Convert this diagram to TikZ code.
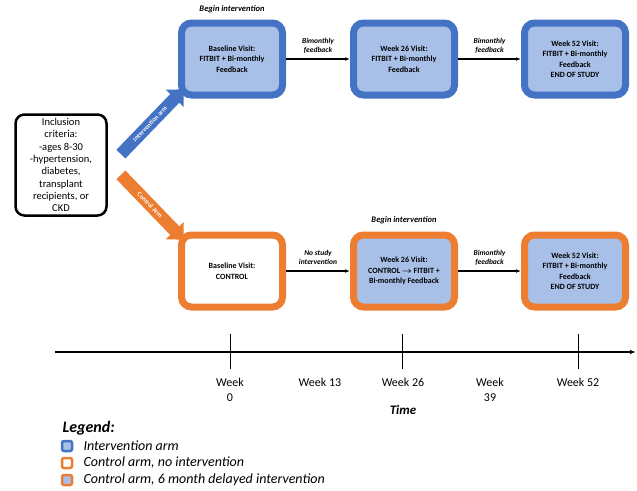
\documentclass[tikz,border=0pt]{standalone}
\usepackage{fontspec}
\setmainfont{Carlito}
\usetikzlibrary{shapes.arrows,arrows.meta}

\definecolor{armblue}{HTML}{4472C4}
\definecolor{armfill}{HTML}{A8C0E8}
\definecolor{armorange}{HTML}{ED7D31}

\tikzset{
  visit/.style={rounded corners=10pt, line width=7pt, minimum width=101pt,
    minimum height=72pt, align=center, inner sep=2pt,
    font=\fontsize{8}{10.5}\selectfont\bfseries},
  bluevisit/.style={visit, draw=armblue, fill=armfill},
  ctrlvisit/.style={visit, draw=armorange, fill=white},
  delayvisit/.style={visit, draw=armorange, fill=armfill},
  steplabel/.style={align=center, font=\fontsize{7.5}{9}\selectfont\bfseries\itshape},
  blockarrow/.style={single arrow, minimum height=90pt, minimum width=25pt,
    single arrow head extend=6pt, inner xsep=2pt, inner ysep=3.5pt, text=white,
    font=\fontsize{6.5}{7}\selectfont\bfseries},
  keybox/.style={rounded corners=2pt, line width=2.5pt, minimum size=10pt, inner sep=0pt},
  keytext/.style={anchor=west, font=\fontsize{14}{16}\selectfont\itshape}
}

\begin{document}
\begin{tikzpicture}[x=1pt, y=-1pt]
  \useasboundingbox (0,0) rectangle (637,490);

  % inclusion criteria
  \node[draw, line width=2.5pt, rounded corners=9pt, minimum width=91pt,
    minimum height=101pt, align=center, inner sep=1pt,
    font=\fontsize{10.5}{12.3}\selectfont] (incl) at (61,165)
    {Inclusion\\criteria:\\-ages 8-30\\-hypertension,\\diabetes,\\transplant\\recipients, or\\CKD};

  % intervention arm (top row)
  \node[bluevisit] (ibase) at (232,59) {Baseline Visit:\\FITBIT + Bi-monthly\\Feedback};
  \node[bluevisit] (iwk26) at (404,59) {Week 26 Visit:\\FITBIT + Bi-monthly\\Feedback};
  \node[bluevisit] (iwk52) at (575,59) {Week 52 Visit:\\FITBIT + Bi-monthly\\Feedback\\END OF STUDY};
  \node[steplabel, font=\fontsize{8.5}{10}\selectfont\bfseries\itshape] at (232,9) {Begin intervention};

  \draw[-{Latex[length=5pt]}, line width=1.4pt] (ibase) -- node[steplabel, above=2pt] {Bimonthly\\feedback} (iwk26);
  \draw[-{Latex[length=5pt]}, line width=1.4pt] (iwk26) -- node[steplabel, above=2pt] {Bimonthly\\feedback} (iwk52);

  % control arm (bottom row)
  \node[ctrlvisit] (cbase) at (232,271) {Baseline Visit:\\CONTROL};
  \node[delayvisit] (cwk26) at (404,271) {Week 26 Visit:\\CONTROL {\boldmath$\rightarrow$} FITBIT +\\Bi-monthly Feedback};
  \node[delayvisit] (cwk52) at (575,271) {Week 52 Visit:\\FITBIT + Bi-monthly\\Feedback\\END OF STUDY};
  \node[steplabel, font=\fontsize{8.5}{10}\selectfont\bfseries\itshape] at (404,220) {Begin intervention};

  \draw[-{Latex[length=5pt]}, line width=1.4pt] (cbase) -- node[steplabel, above=2pt] {No study\\intervention} (cwk26);
  \draw[-{Latex[length=5pt]}, line width=1.4pt] (cwk26) -- node[steplabel, above=2pt] {Bimonthly\\feedback} (cwk52);

  % the two arms
  \node[blockarrow, fill=armblue, rotate=46] (iarm) at (150,124) {Intervention arm};
  \node[blockarrow, fill=armorange, rotate=-46] (carm) at (150,205) {Control Arm};

  % timeline
  \coordinate (tstart) at (55,352);
  \coordinate (tend) at (636,352);
  \draw[-{Latex[length=6pt]}, line width=1.8pt] (tstart) -- (tend);
  \foreach \tx in {230,402,578}
    \draw[line width=1pt] (\tx,334) -- (\tx,369);

  \begin{scope}[every node/.style={align=center, font=\fontsize{12}{15}\selectfont}]
    \node[anchor=north] (w0) at (230,375) {Week\\0};
    \node[anchor=north] (w13) at (320,375) {Week 13};
    \node[anchor=north] (w26) at (403,375) {Week 26};
    \node[anchor=north] (w39) at (490,375) {Week\\39};
    \node[anchor=north] (w52) at (578,375) {Week 52};
  \end{scope}
  \node[font=\fontsize{13}{15}\selectfont\bfseries\itshape] (time) at (403,410) {Time};

  % legend
  \node[anchor=west, font=\fontsize{16}{18}\selectfont\bfseries\itshape] (leg) at (59,428) {Legend:};
  \node[keybox, draw=armblue, fill=armfill] (k1) at (67,446) {};
  \node[keybox, draw=armorange, fill=white] (k2) at (67,463) {};
  \node[keybox, draw=armorange, fill=armfill] (k3) at (67,480) {};
  \node[keytext] at (80,446) {Intervention arm};
  \node[keytext] at (80,463) {Control arm, no intervention};
  \node[keytext] at (80,480) {Control arm, 6 month delayed intervention};
\end{tikzpicture}
\end{document}
